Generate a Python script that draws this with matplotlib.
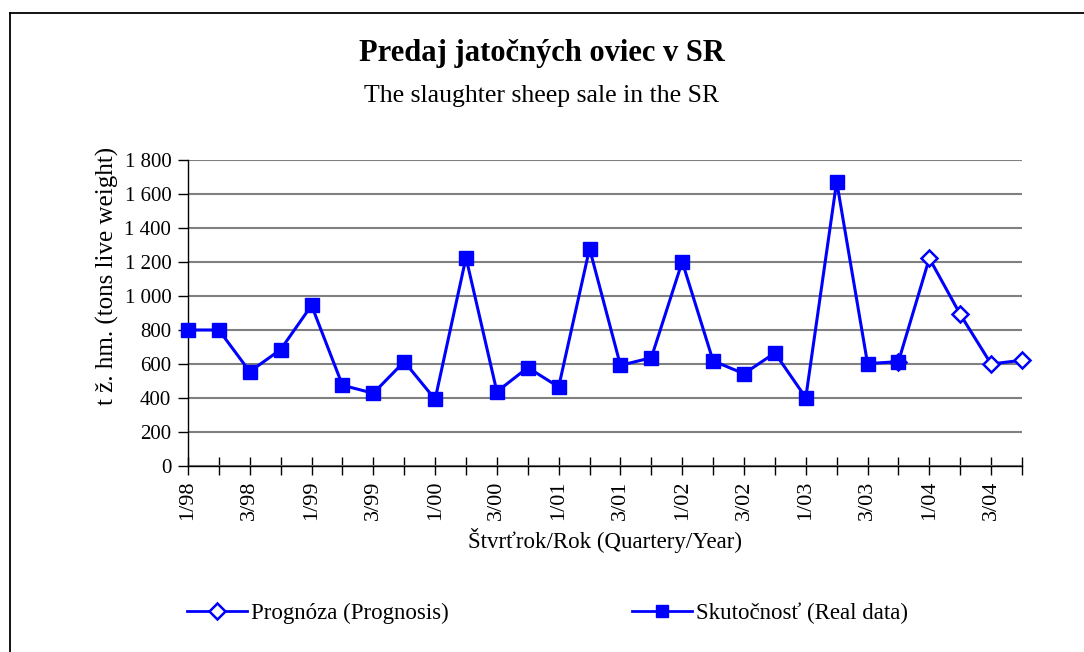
#Slaughter sheep sale in SR - quarterly real data and prognosis
import matplotlib
matplotlib.use('Agg')
import matplotlib.pyplot as plt
from matplotlib.lines import Line2D
import numpy as np

#DATA
quarters = [f"{q}/{y:02d}" for y in [98, 99, 0, 1, 2, 3, 4] for q in [1, 2, 3, 4]]
real = [800, 800, 555, 685, 945, 475, 428, 614, 392, 1226,
        437, 579, 465, 1279, 592, 637, 1202, 618, 543, 665,
        402, 1673, 602, 614]
prognosis = [614, 1222, 892, 600, 622]  # from 4/03 on
prog_start = 23

#FIGURE
plt.rcParams['font.family'] = ['Liberation Serif', 'DejaVu Serif']
W, H = 1084, 652
fig = plt.figure(figsize=(W / 100, H / 100), dpi=100)
ax = fig.add_axes([188 / W, 1 - 466 / H, (1022 - 188) / W, (466 - 160) / H])

blue = '#0000ff'
x_real = np.arange(len(real))
x_prog = np.arange(prog_start, prog_start + len(prognosis))

ax.plot(x_prog, prognosis, color=blue, lw=2.2, marker='D', ms=8,
        mfc='white', mec=blue, mew=1.8, zorder=3, clip_on=False)
ax.plot(x_real, real, color=blue, lw=2.2, marker='s', ms=9.5,
        mfc=blue, mec=blue, zorder=4, clip_on=False)

ax.set_xlim(0, len(quarters) - 1)
ax.set_ylim(0, 1800)
ax.set_yticks(np.arange(0, 1801, 200))
ax.set_yticklabels([f"{v:,}".replace(',', ' ') for v in range(0, 1801, 200)])
ax.set_xticks(np.arange(len(quarters)))
ax.set_xticklabels([q if i % 2 == 0 else '' for i, q in enumerate(quarters)],
                   rotation=90)
ax.tick_params(axis='y', direction='out', length=7, width=1, labelsize=15, pad=5)
ax.tick_params(axis='x', direction='inout', length=13, width=1, labelsize=16, pad=4)
ax.grid(axis='y', color='#808080', lw=1.5)
ax.set_axisbelow(True)
for s in ['top', 'right']:
    ax.spines[s].set_visible(False)
for s in ['left', 'bottom']:
    ax.spines[s].set_color('black')
    ax.spines[s].set_linewidth(1)

ax.set_ylabel('t ž. hm. (tons live weight)', fontsize=18, va='center')
ax.yaxis.set_label_coords(-0.097, 0.62)
ax.set_xlabel('Štvrťrok/Rok (Quartery/Year)', fontsize=16.5, labelpad=6)

fig.text(0.5, 1 - 54 / H, 'Predaj jatočných oviec v SR', ha='center', va='center',
         fontsize=22, fontweight='bold')
fig.text(0.5, 1 - 96 / H, 'The slaughter sheep sale in the SR', ha='center',
         va='center', fontsize=18.5)

#LEGEND
h1 = Line2D([], [], color=blue, lw=2, marker='D', ms=8, mfc='white', mec=blue, mew=1.8)
h2 = Line2D([], [], color=blue, lw=2, marker='s', ms=9, mfc=blue, mec=blue)
fig.legend([h1, h2], ['Prognóza (Prognosis)', 'Skutočnosť (Real data)'],
           ncol=2, loc='center left', bbox_to_anchor=(187 / W, 1 - 613 / H),
           frameon=False, fontsize=16.5, handlelength=2.6, handletextpad=0.2,
           columnspacing=8.0, borderaxespad=0, borderpad=0)

#CHART BORDER
fig.add_artist(Line2D([10 / W, 1], [1 - 13 / H, 1 - 13 / H], color='black', lw=1.3))
fig.add_artist(Line2D([10 / W, 10 / W], [0, 1 - 13 / H], color='black', lw=1.3))

fig.savefig('out.png', dpi=100)
